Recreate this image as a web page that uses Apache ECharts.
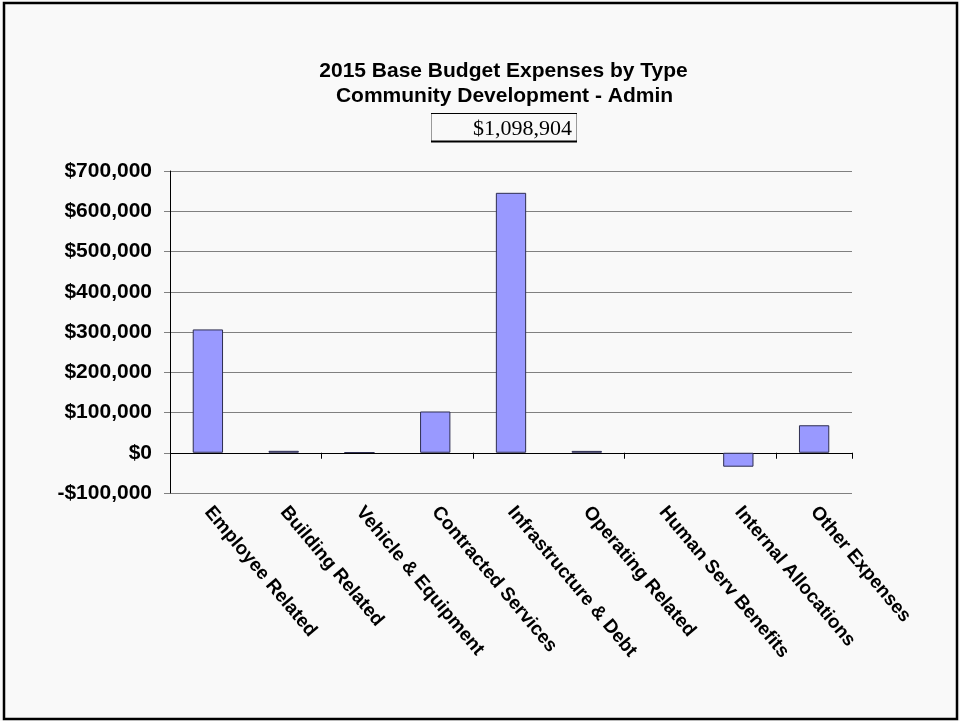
<!DOCTYPE html>
<html>
<head>
<meta charset="utf-8">
<title>2015 Base Budget Expenses by Type</title>
<script src="https://cdn.jsdelivr.net/npm/echarts@6/dist/echarts.min.js"></script>
<style>
  html, body { margin: 0; padding: 0; background: #f9f9f9; }
  #chart { width: 960px; height: 721px; }
</style>
</head>
<body>
<div id="chart"></div>
<script>
// Expense categories and their 2015 base budget amounts (USD)
const categories = [
  'Employee Related', 'Building Related', 'Vehicle & Equipment',
  'Contracted Services', 'Infrastructure & Debt', 'Operating Related',
  'Human Serv Benefits', 'Internal Allocations', 'Other Expenses'
];
const amounts = [306404, 4800, 1200, 102500, 645800, 4600, 0, -34700, 68300];

// Value axis range and step
const yMin = -100000;
const yMax = 700000;
const yStep = 100000;

const titleLines = ['2015 Base Budget Expenses by Type', 'Community Development - Admin'];

const money = v => (v < 0 ? '-' : '') + '$' + Math.abs(v).toLocaleString('en-US');
const total = amounts.reduce((a, b) => a + b, 0);

const sans = '"Liberation Sans", Arial, sans-serif';
const serif = '"Liberation Serif", "Times New Roman", serif';

// an empty category draws no outline
const barData = amounts.map(v => v === 0
  ? { value: v, itemStyle: { borderWidth: 0 } }
  : v);

const chart = echarts.init(document.getElementById('chart'), null, { renderer: 'canvas' });

chart.setOption({
  backgroundColor: '#f9f9f9',
  animation: false,
  grid: { left: 170, right: 108, top: 171, bottom: 228, containLabel: false },
  xAxis: [
    {
      // zero line with category boundary ticks
      type: 'category',
      data: categories,
      axisLine: { show: true, onZero: true, lineStyle: { color: '#000', width: 1 } },
      axisTick: { show: true, alignWithLabel: false, length: 6, lineStyle: { color: '#000', width: 1 } },
      axisLabel: { show: false },
      splitLine: { show: false }
    },
    {
      // category names along the bottom of the plot
      type: 'category',
      data: categories,
      position: 'bottom',
      axisLine: { show: false, onZero: false },
      axisTick: { show: false },
      splitLine: { show: false },
      axisLabel: {
        show: true,
        interval: 0,
        rotate: -50,
        margin: 16,
        color: '#000',
        fontFamily: sans,
        fontWeight: 'bold',
        fontSize: 19
      }
    }
  ],
  yAxis: {
    type: 'value',
    min: yMin,
    max: yMax,
    interval: yStep,
    axisLine: { show: true, lineStyle: { color: '#000', width: 1 } },
    axisTick: { show: true, length: 6, lineStyle: { color: '#808080', width: 1 } },
    splitLine: { show: true, showMinLine: true, showMaxLine: true, lineStyle: { color: '#808080', width: 1 } },
    axisLabel: {
      formatter: money,
      margin: 18,
      color: '#000',
      fontFamily: sans,
      fontWeight: 'bold',
      fontSize: 21
    }
  },
  series: [{
    type: 'bar',
    xAxisIndex: 0,
    data: barData,
    barWidth: '40%',
    itemStyle: { color: '#9999ff', borderColor: '#2e2e50', borderWidth: 1 }
  }],
  graphic: [
    {
      type: 'rect',
      shape: { x: 4, y: 3, width: 953, height: 716 },
      style: { fill: 'none', stroke: '#000', lineWidth: 2.5 },
      silent: true
    },
    {
      type: 'text',
      x: 503.5, y: 71,
      style: {
        text: titleLines[0], fill: '#000', font: 'bold 21px ' + sans,
        textAlign: 'center', textVerticalAlign: 'middle'
      }
    },
    {
      type: 'text',
      x: 504.5, y: 96.5,
      style: {
        text: titleLines[1], fill: '#000', font: 'bold 21px ' + sans,
        textAlign: 'center', textVerticalAlign: 'middle'
      }
    },
    // total amount box: light left/right edges, dark top/bottom edges
    { type: 'line', shape: { x1: 431.5, y1: 113, x2: 431.5, y2: 142 }, style: { stroke: '#9a9a9a', lineWidth: 1 } },
    { type: 'line', shape: { x1: 576.5, y1: 113, x2: 576.5, y2: 142 }, style: { stroke: '#9a9a9a', lineWidth: 1 } },
    { type: 'line', shape: { x1: 431, y1: 113.5, x2: 577, y2: 113.5 }, style: { stroke: '#000', lineWidth: 1 } },
    { type: 'line', shape: { x1: 431, y1: 141.5, x2: 577, y2: 141.5 }, style: { stroke: '#000', lineWidth: 2 } },
    {
      type: 'text',
      x: 572, y: 129,
      style: {
        text: money(total), fill: '#000', font: '22px ' + serif,
        textAlign: 'right', textVerticalAlign: 'middle'
      }
    }
  ]
});
</script>
</body>
</html>
